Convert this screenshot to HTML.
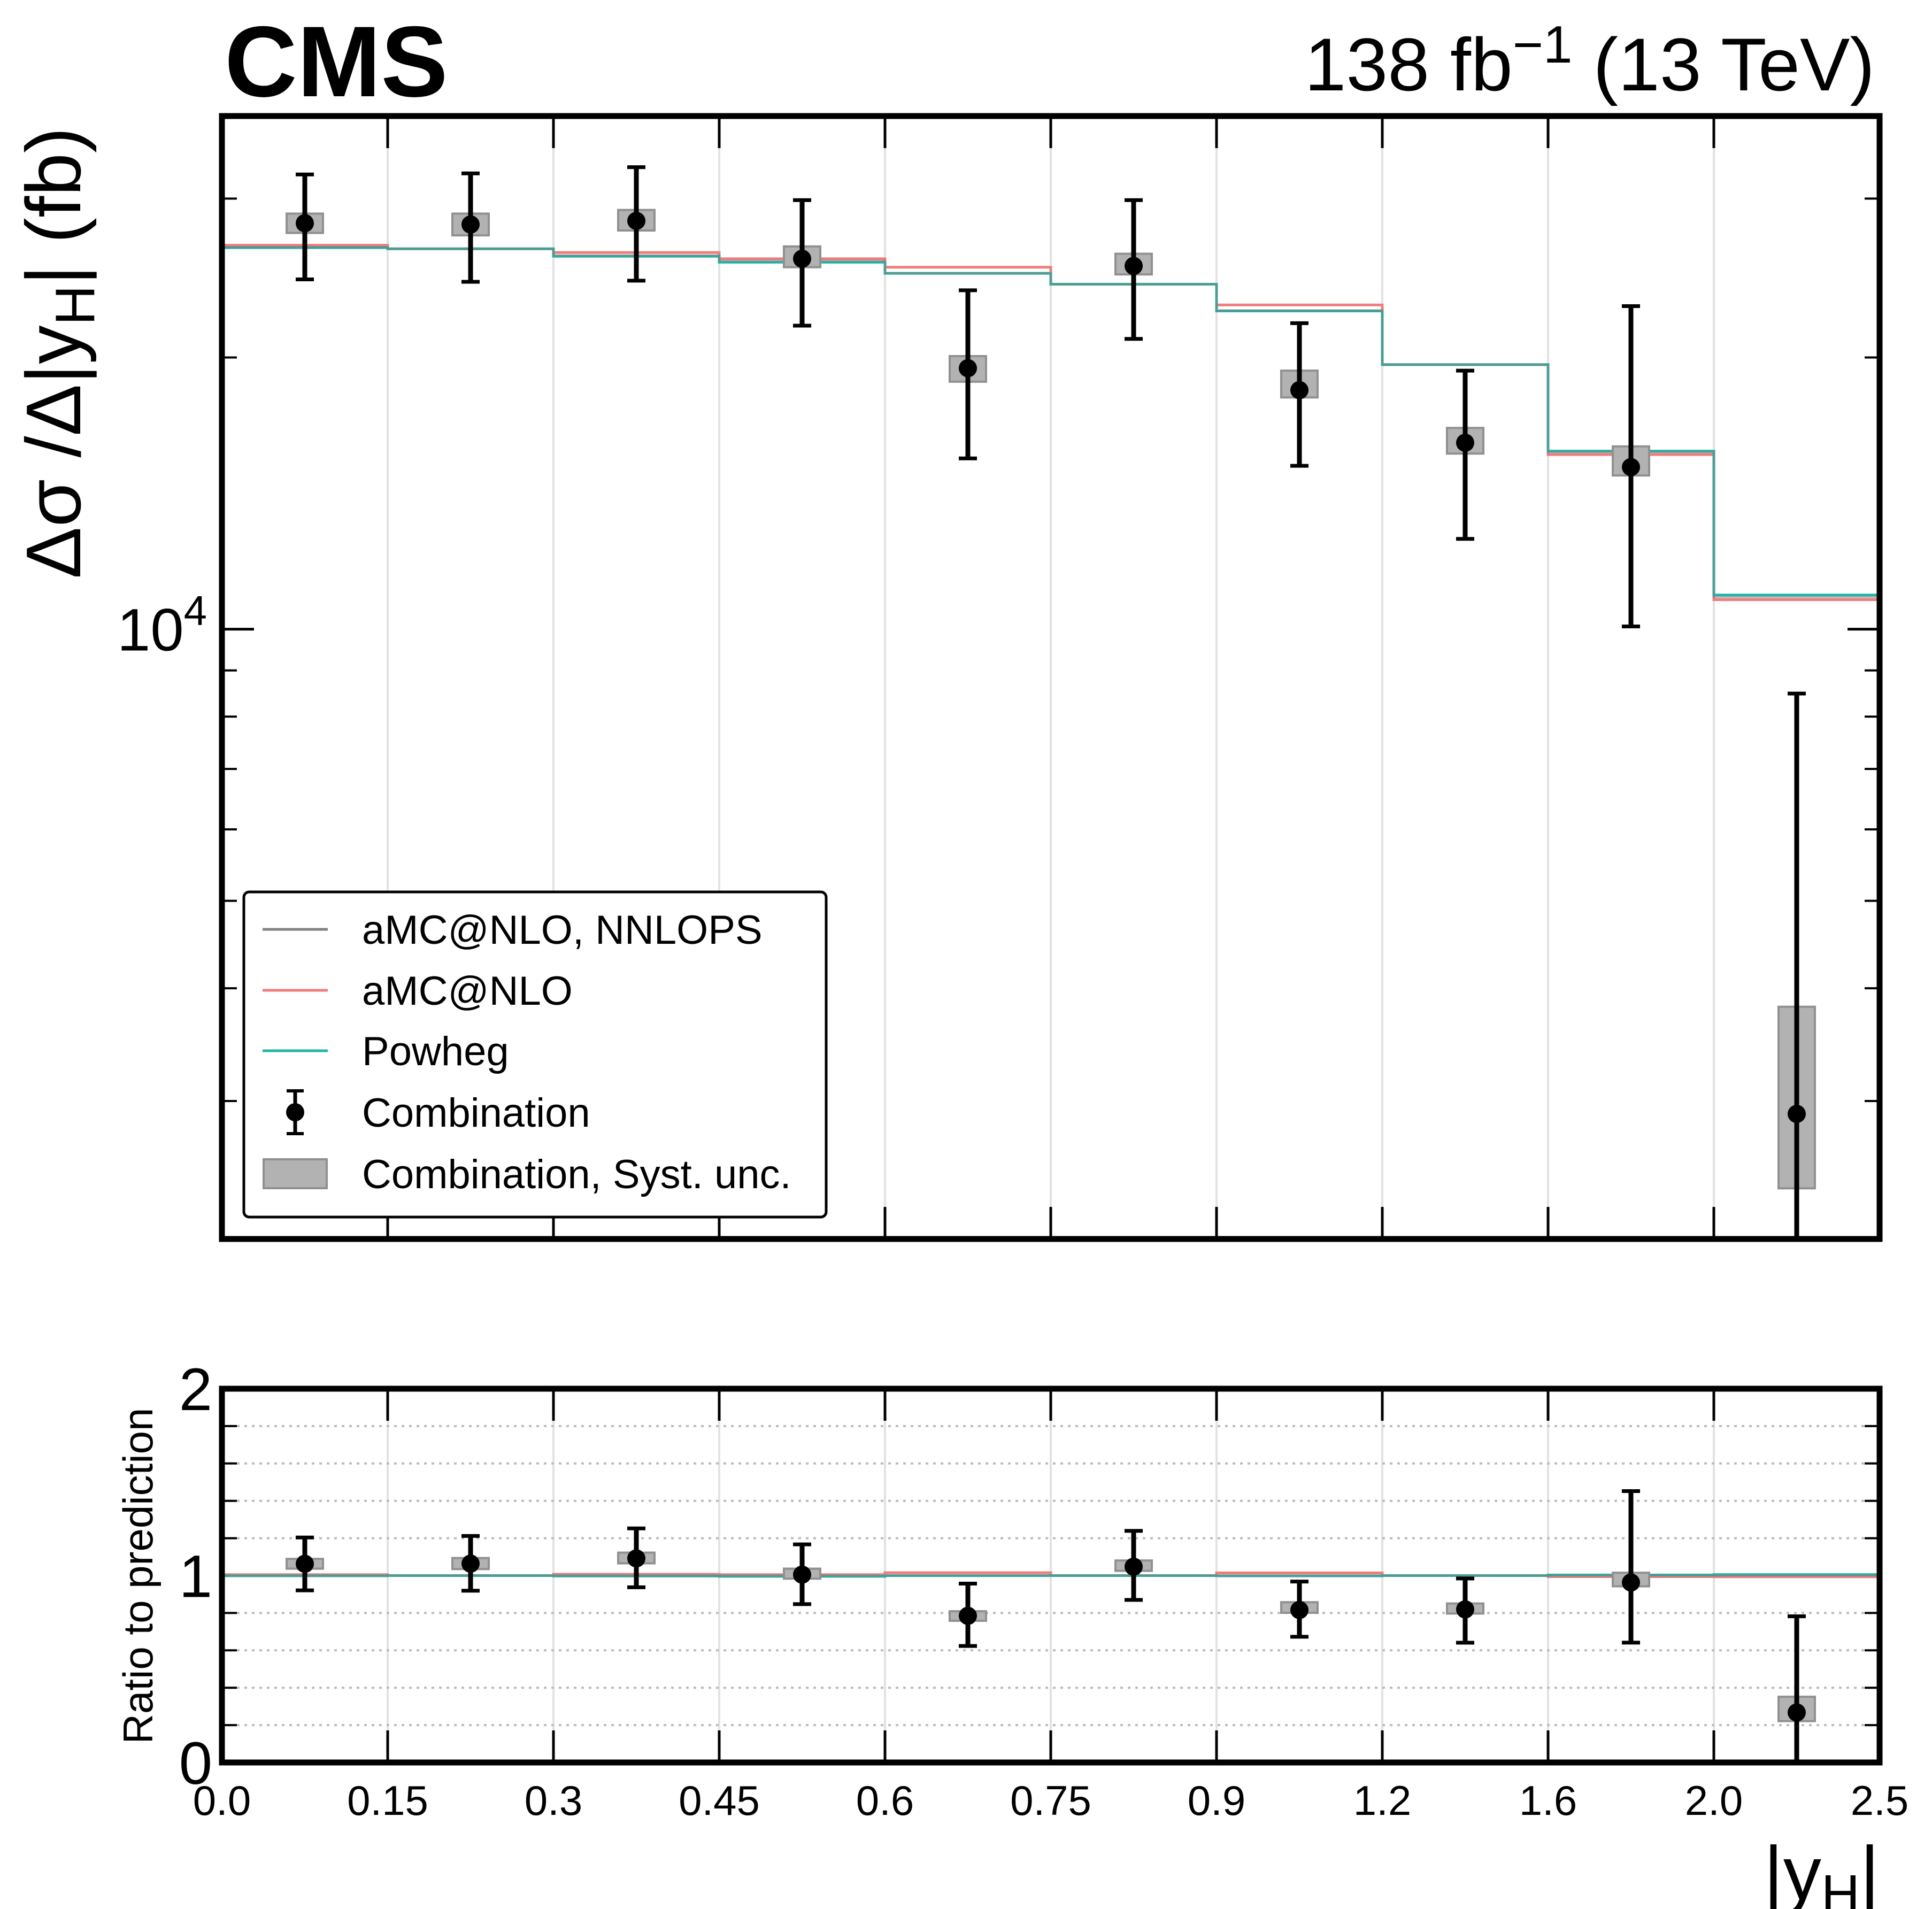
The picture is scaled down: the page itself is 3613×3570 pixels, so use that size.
<!DOCTYPE html>
<html><head><meta charset="utf-8"><style>
html,body{margin:0;padding:0;background:#fff;}
svg{display:block;font-family:"Liberation Sans",sans-serif;}
</style></head><body>
<svg id="chart" width="3613" height="3570" viewBox="0 0 3613 3570" xmlns="http://www.w3.org/2000/svg">
<g id="main"></g>
<g id="ratio"></g>
<text x="420" y="180" font-size="188" font-weight="bold">CMS</text>
<text x="3506" y="169" font-size="140" text-anchor="end">138 fb<tspan dy="-52" font-size="98">−1</tspan><tspan dy="52"> (13 TeV)</tspan></text>
<text transform="translate(150,660) rotate(-90)" font-size="145" text-anchor="middle">Δσ /Δ|y<tspan dy="26" font-size="104">H</tspan><tspan dy="-26">| (fb)</tspan></text>
<text transform="translate(285,2947) rotate(-90)" font-size="78" text-anchor="middle">Ratio to prediction</text>
<text x="3515" y="3552" font-size="142" text-anchor="end">|y<tspan dy="24" font-size="100">H</tspan><tspan dy="-24">|</tspan></text>
<g id="legend"></g>
</svg>
<script>
const binLabels = ["0.0","0.15","0.3","0.45","0.6","0.75","0.9","1.2","1.6","2.0","2.5"];
const dataVal = [28170,28080,28340,25730,19460,25260,18400,16090,15120,2903];
const errUp   = [31900,31990,32500,29880,23740,29880,21830,19340,22800,8485];
const errDown = [24410,24260,24330,21690,15460,20970,15170,12590,10070,0];
const systUp  = [28870,28870,29140,26550,20070,26060,19340,16710,15940,3816];
const systDown= [27480,27310,27650,25180,18800,24720,18060,15650,14800,2401];
const nnlops  = [26500,26390,25950,25600,24800,24110,22550,19640,15700,10850];
const amcnlo  = [26630,26390,26140,25730,25180,24110,22870,19640,15610,10780];
const powheg  = [26470,26390,25890,25500,24790,24110,22520,19640,15750,10910];
const majorY = [10000];
const minorY = [3000,4000,5000,6000,7000,8000,9000,20000,30000];
const ratioTicks = [0,1,2];
const ratioMinor = [0.2,0.4,0.6,0.8,1.2,1.4,1.6,1.8];

const NS="http://www.w3.org/2000/svg";
const L=415,R=3515,T=217,B=2317,RT=2597,RB=3296;
const nb=binLabels.length-1;
const bw=(R-L)/nb;
function xb(i){return L+bw*i;}
const Ymin=Math.log10(2110),Ymax=Math.log10(37030);
function ym(v){ if(v<=0) return B+50; return B-(Math.log10(v)-Ymin)/(Ymax-Ymin)*(B-T);}
function yr(r){return RB-(r/2)*(RB-RT);}
function mk(tag,attrs,parent){const e=document.createElementNS(NS,tag);for(const k in attrs)e.setAttribute(k,attrs[k]);parent.appendChild(e);return e;}

const main=document.getElementById('main');
const ratio=document.getElementById('ratio');
const defs=mk('defs',{},document.getElementById('chart'));
const c1=mk('clipPath',{id:'cm'},defs);mk('rect',{x:L,y:T,width:R-L,height:B-T},c1);
const c2=mk('clipPath',{id:'cr'},defs);mk('rect',{x:L,y:RT,width:R-L,height:RB-RT},c2);

function panel(g,top,bot,clip){
  const inner=mk('g',{'clip-path':'url(#'+clip+')'},g);
  for(let i=1;i<nb;i++){
    const l=mk('line',{x1:xb(i),x2:xb(i),y1:top,y2:bot,stroke:'#e2e2e2','stroke-width':4},inner);
    
    
    mk('line',{x1:xb(i),x2:xb(i),y1:top,y2:top+60,stroke:'#000','stroke-width':5},g);
    mk('line',{x1:xb(i),x2:xb(i),y1:bot,y2:bot-60,stroke:'#000','stroke-width':5},g);
  }
  return inner;
}
const mi=panel(main,T,B,'cm');
const ri=panel(ratio,RT,RB,'cr');

majorY.forEach(v=>{
  const y=ym(v);
  mk('line',{x1:L,x2:L+60,y1:y,y2:y,stroke:'#000','stroke-width':5},main);
  mk('line',{x1:R,x2:R-60,y1:y,y2:y,stroke:'#000','stroke-width':5},main);
  const t=mk('text',{x:L-28,y:y+40,'font-size':112,'text-anchor':'end'},main);
  
  
  t.innerHTML='10<tspan dy="-48" font-size="78">'+Math.round(Math.log10(v))+'</tspan>';
});
minorY.forEach(v=>{
  const y=ym(v);
  mk('line',{x1:L,x2:L+28,y1:y,y2:y,stroke:'#000','stroke-width':4},main);
  mk('line',{x1:R,x2:R-28,y1:y,y2:y,stroke:'#000','stroke-width':4},main);
});
ratioMinor.forEach(r=>{
  const y=yr(r);
  const l=mk('line',{x1:L,x2:R,y1:y,y2:y,stroke:'#bbb','stroke-width':4,'stroke-dasharray':'5,9'},ri);
  
  
  mk('line',{x1:L,x2:L+28,y1:y,y2:y,stroke:'#000','stroke-width':4},ratio);
  mk('line',{x1:R,x2:R-28,y1:y,y2:y,stroke:'#000','stroke-width':4},ratio);
});
ratioTicks.forEach(r=>{
  const t=mk('text',{x:397,y:yr(r)+40,'font-size':112,'text-anchor':'end'},ratio);
  
  
  t.textContent=String(r);
});
binLabels.forEach((s,i)=>{
  const t=mk('text',{x:xb(i),y:3394,'font-size':78,'text-anchor':'middle'},ratio);
  
  
  t.textContent=s;
});

function stepPath(vals,yf){
  let d='';
  vals.forEach((v,i)=>{const y=yf(v,i);d+=(i===0?'M':'L')+xb(i)+','+y+' L'+xb(i+1)+','+y+' ';});
  return d;
}
const series=[[amcnlo,'#f07c7c','amcnlo'],[powheg,'#22b5a6','powheg'],[nnlops,'#808080','nnlops']];
series.forEach(s=>{
  const w=s[2]==='nnlops'?4:5;
  const p=mk('path',{d:stepPath(s[0],v=>ym(v)),fill:'none',stroke:s[1],'stroke-width':w,'stroke-opacity':s[2]==='nnlops'?0.55:1},mi);
  
  
  const q=mk('path',{d:stepPath(s[0],(v,i)=>yr(v/nnlops[i])),fill:'none',stroke:s[1],'stroke-width':w,'stroke-opacity':s[2]==='nnlops'?0.55:1},ri);
  
  
});

function drawPoint(g,cx,yc,yu,yd,su,sd){
  const b=mk('rect',{x:cx-34,y:Math.min(su,sd),width:68,height:Math.abs(sd-su),fill:'#b2b2b2',stroke:'#909090','stroke-width':4},g);
  
  
  const e=mk('line',{x1:cx,x2:cx,y1:yu,y2:yd,stroke:'#000','stroke-width':9},g);
  
  
  mk('line',{x1:cx-17,x2:cx+17,y1:yu,y2:yu,stroke:'#000','stroke-width':7},g);
  mk('line',{x1:cx-17,x2:cx+17,y1:yd,y2:yd,stroke:'#000','stroke-width':7},g);
  const c=mk('circle',{cx:cx,cy:yc,r:17,fill:'#000'},g);
  
  
}
dataVal.forEach((v,i)=>{
  const cx=xb(i+0.5);
  drawPoint(mi,cx,ym(v),ym(errUp[i]),ym(errDown[i]),ym(systUp[i]),ym(systDown[i]));
  const n=nnlops[i];
  drawPoint(ri,cx,yr(v/n),yr(errUp[i]/n),yr(errDown[i]/n),yr(systUp[i]/n),yr(systDown[i]/n));
});

[[T,B],[RT,RB]].forEach(p=>{
  const f=mk('rect',{x:L,y:p[0],width:R-L,height:p[1]-p[0],fill:'none',stroke:'#000','stroke-width':11},document.getElementById('chart'));
  
  
});

const lg=document.getElementById('legend');
const lb=mk('rect',{x:456,y:1668,width:1089,height:608,rx:10,fill:'#fff',stroke:'#000','stroke-width':5},lg);


const labels=['aMC@NLO, NNLOPS','aMC@NLO','Powheg','Combination','Combination, Syst. unc.'];
const lcol=['#808080','#f07c7c','#22b5a6'];
const ly=[1738,1852,1965,2080,2195];
labels.forEach((s,i)=>{
  const y=ly[i];
  if(i<3){
    mk('line',{x1:491,x2:613,y1:y,y2:y,stroke:lcol[i],'stroke-width':5},lg);
  } else if(i===3){
    mk('line',{x1:552,x2:552,y1:y-40,y2:y+40,stroke:'#000','stroke-width':7},lg);
    mk('line',{x1:536,x2:568,y1:y-40,y2:y-40,stroke:'#000','stroke-width':6},lg);
    mk('line',{x1:536,x2:568,y1:y+40,y2:y+40,stroke:'#000','stroke-width':6},lg);
    mk('circle',{cx:552,cy:y,r:17,fill:'#000'},lg);
  } else {
    mk('rect',{x:493,y:y-27,width:118,height:54,fill:'#b2b2b2',stroke:'#909090','stroke-width':4},lg);
  }
  const t=mk('text',{x:677,y:y+27,'font-size':76},lg);
  
  
  t.textContent=s;
});
</script>
</body></html>
